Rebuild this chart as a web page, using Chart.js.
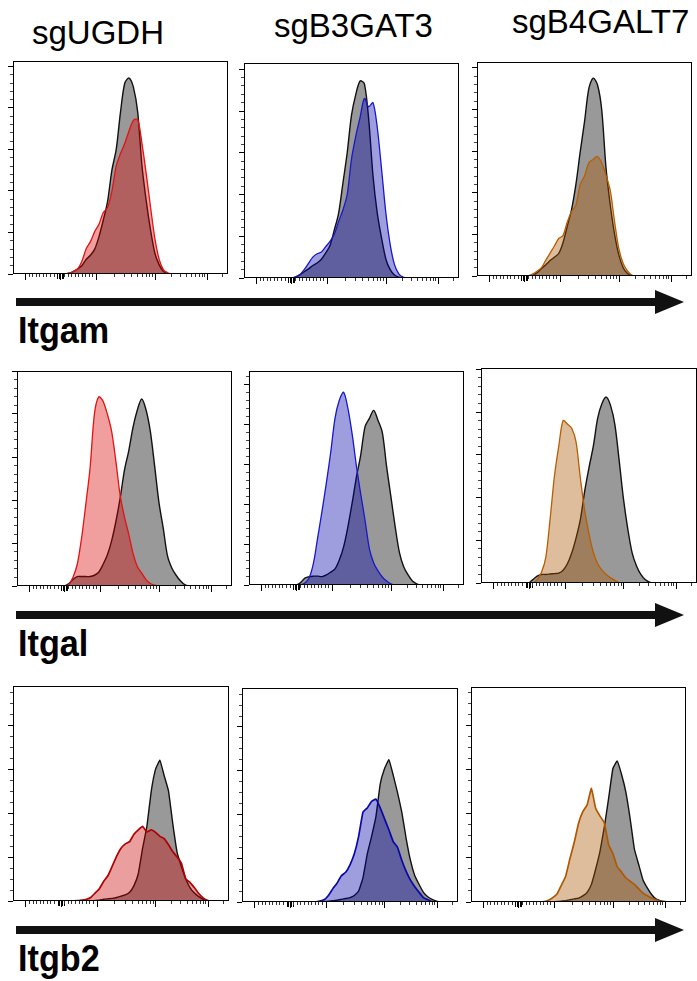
<!DOCTYPE html>
<html><head><meta charset="utf-8">
<script src="https://cdn.jsdelivr.net/npm/chart.js@4.4.1/dist/chart.umd.min.js"></script>
<style>
html,body{margin:0;padding:0;background:#fff;width:697px;height:981px;overflow:hidden;position:relative}
canvas{position:absolute}
.t{position:absolute;font-family:"Liberation Sans",Arial,sans-serif;white-space:nowrap;color:#000;line-height:1;transform-origin:0 0}
.title{font-size:33px}
.lab{font-size:36px;font-weight:bold;transform:scaleX(0.95)}
</style></head><body>
<div class="t title" style="left:32px;top:16px">sgUGDH</div>
<div class="t title" style="left:274px;top:9px">sgB3GAT3</div>
<div class="t title" style="left:512px;top:5px">sgB4GALT7</div>
<div class="t lab" style="left:18px;top:313px">Itgam</div>
<div class="t lab" style="left:18px;top:626px">Itgal</div>
<div class="t lab" style="left:18px;top:941px">Itgb2</div>
<svg style="position:absolute;left:0;top:0" width="697" height="981">
<g fill="#111">
<rect x="16" y="298" width="642" height="8"/><polygon points="655,290 684,302 655,314"/>
<rect x="16" y="611" width="642" height="8"/><polygon points="655,603 684,615 655,627"/>
<rect x="16" y="926" width="642" height="8"/><polygon points="655,918 684,930 655,942"/>
</g></svg>
<script>
// fluorescence channel (display units across the plot width)
const channel=[0,2,4,6,8,10,12,14,16,18,20,22,24,26,28,30,32,34,36,38,40,42,44,46,48,50,52,54,56,58,60,62,64,66,68,70,72,74,76,78,80,82,84,86,88,90,92,94,96,98,100];
// biexponential axis tick positions (no labels)
const xMajorTicks=[6.0,22.3,38.9,66.2,90.3];
const xZeroTicks=[20.9,21.6,23.0,23.7];
const xMinorTicks=[7.6,9.3,10.9,12.5,14.2,15.8,17.4,19.1,24.0,25.6,27.3,28.9,30.6,32.2,33.9,35.5,37.2,47.1,51.9,55.3,58.0,60.1,62.0,63.6,65.0,73.5,77.7,80.7,83.0,84.9,86.6,88.0,89.2,97.5];

// Row Itgam
const ctrl_UGDH_Itgam=[0,0,0,0,0,0,0,0,0,0,0,0, 0,0.02,0.06,0.12,0.2,0.35,0.45,0.6,0.9,1.3,1.75,2.5,3.0,3.9,4.6,4.72,4.5,3.9,2.6,1.75,1.05,0.5,0.22,0.06,0.01, 0,0,0,0,0,0,0,0,0,0,0,0,0,0];
const sg_UGDH_Itgam=[0,0,0,0,0,0,0,0,0,0,0,0, 0,0.02,0.06,0.12,0.3,0.6,0.78,1.02,1.2,1.48,1.6,2.0,2.6,2.9,3.15,3.45,3.7,3.72,3.14,2.4,1.6,0.85,0.35,0.1,0.03, 0,0,0,0,0,0,0,0,0,0,0,0,0,0];
const ctrl_B3GAT3_Itgam=[0,0,0,0,0,0,0,0,0,0,0,0, 0.02,0.08,0.15,0.22,0.3,0.36,0.45,0.6,0.78,1.15,1.55,2.27,3.0,3.9,4.4,4.72,4.65,3.8,2.45,1.55,0.95,0.45,0.2,0.07,0.02, 0,0,0,0,0,0,0,0,0,0,0,0,0,0];
const sg_B3GAT3_Itgam=[0,0,0,0,0,0,0,0,0,0,0,0, 0.03,0.08,0.2,0.35,0.5,0.58,0.62,0.75,0.88,1.05,1.35,1.63,2.0,2.85,3.4,3.85,4.3,4.1,4.2,3.6,2.6,1.55,0.8,0.32,0.1,0.02, 0,0,0,0,0,0,0,0,0,0,0,0,0];
const ctrl_B4GALT7_Itgam=[0,0,0,0,0,0,0,0,0,0,0,0, 0,0.02,0.08,0.18,0.27,0.37,0.45,0.54,0.8,1.2,1.6,2.2,2.98,3.7,4.5,4.75,4.6,4.0,2.6,1.7,1.0,0.5,0.2,0.06,0.01, 0,0,0,0,0,0,0,0,0,0,0,0,0,0];
const sg_B4GALT7_Itgam=[0,0,0,0,0,0,0,0,0,0,0,0, 0.01,0.05,0.12,0.2,0.38,0.55,0.72,0.9,0.97,1.3,1.55,1.7,2.2,2.4,2.72,2.8,2.87,2.72,2.42,2.05,1.3,0.65,0.3,0.12,0.02, 0,0,0,0,0,0,0,0,0,0,0,0,0,0];
// Row Itgal
const ctrl_UGDH_Itgal=[0,0,0,0,0,0,0,0,0,0,0,0, 0.05,0.15,0.22,0.22,0.22,0.22,0.25,0.32,0.5,0.72,1.05,1.5,2.05,2.7,3.15,3.7,4.1,4.35,4.1,3.6,2.8,1.95,1.35,0.7,0.42,0.25,0.12,0.03, 0,0,0,0,0,0,0,0,0,0,0];
const sg_UGDH_Itgal=[0,0,0,0,0,0,0,0,0,0,0,0, 0.03,0.2,0.5,1.1,1.9,2.75,4.0,4.4,4.3,4.0,3.6,2.9,2.1,1.6,1.2,0.75,0.45,0.3,0.15,0.06,0.02, 0,0,0,0,0,0,0,0,0,0,0,0,0,0,0,0,0,0];
const ctrl_B3GAT3_Itgal=[0,0,0,0,0,0,0,0,0,0,0,0, 0.06,0.17,0.21,0.22,0.22,0.21,0.25,0.32,0.4,0.62,0.95,1.45,2.05,2.7,3.25,3.95,4.15,4.35,4.1,3.8,2.95,2.2,1.45,0.8,0.45,0.25,0.1,0.03, 0,0,0,0,0,0,0,0,0,0,0];
const sg_B3GAT3_Itgal=[0,0,0,0,0,0,0,0,0,0,0,0,0, 0.05,0.18,0.55,1.2,1.85,2.55,3.3,4.15,4.6,4.8,4.4,3.75,2.95,2.25,1.6,0.9,0.55,0.35,0.2,0.1,0.03, 0,0,0,0,0,0,0,0,0,0,0,0,0,0,0,0,0];
const ctrl_B4GALT7_Itgal=[0,0,0,0,0,0,0,0,0,0,0,0, 0.08,0.16,0.2,0.2,0.21,0.22,0.23,0.3,0.45,0.7,1.05,1.48,2.15,2.7,3.2,3.85,4.2,4.35,4.15,3.7,2.85,1.95,1.25,0.7,0.4,0.2,0.08,0.02, 0,0,0,0,0,0,0,0,0,0,0];
const sg_B4GALT7_Itgal=[0,0,0,0,0,0,0,0,0,0,0,0,0, 0.08,0.25,0.6,1.5,2.5,3.2,3.8,3.72,3.62,3.3,2.45,1.7,1.15,0.72,0.45,0.3,0.2,0.12,0.06,0.01, 0,0,0,0,0,0,0,0,0,0,0,0,0,0,0,0,0,0];
// Row Itgb2
const ctrl_UGDH_Itgb2=[0,0,0,0,0,0,0,0,0,0,0,0,0,0,0,0,0,0,0, 0.01,0.02,0.04,0.05,0.06,0.08,0.11,0.14,0.2,0.35,0.62,1.2,1.7,2.5,3.0,3.2,2.85,2.5,1.75,1.1,0.78,0.5,0.3,0.18,0.1,0.04,0.01, 0,0,0,0,0];
const sg_UGDH_Itgb2=[0,0,0,0,0,0,0,0,0,0,0,0,0,0,0, 0.01,0.02,0.04,0.08,0.18,0.28,0.45,0.58,0.8,1.02,1.2,1.3,1.35,1.52,1.62,1.7,1.57,1.62,1.56,1.47,1.42,1.28,1.12,1.0,0.85,0.5,0.42,0.3,0.17,0.07,0.01, 0,0,0,0,0];
const ctrl_B3GAT3_Itgb2=[0,0,0,0,0,0,0,0,0,0,0,0,0,0,0,0,0,0,0, 0.01,0.02,0.03,0.04,0.06,0.08,0.1,0.15,0.25,0.55,1.1,1.5,1.95,2.7,3.05,3.25,2.9,2.5,2.05,1.45,0.95,0.6,0.4,0.22,0.12,0.06,0.02, 0,0,0,0,0];
const sg_B3GAT3_Itgb2=[0,0,0,0,0,0,0,0,0,0,0,0,0,0,0,0,0,0, 0.02,0.05,0.15,0.3,0.43,0.6,0.68,0.85,1.1,1.5,2.05,2.15,2.3,2.35,2.15,1.9,1.65,1.38,1.25,0.95,0.7,0.5,0.35,0.22,0.1,0.05,0.01, 0,0,0,0,0,0];
const ctrl_B4GALT7_Itgb2=[0,0,0,0,0,0,0,0,0,0,0,0,0,0,0,0,0,0,0,0, 0.01,0.02,0.03,0.05,0.07,0.09,0.14,0.22,0.4,0.75,1.15,1.7,2.35,3.03,3.2,2.9,2.5,1.9,1.2,0.85,0.5,0.32,0.17,0.07,0.03,0.01, 0,0,0,0,0];
const sg_B4GALT7_Itgb2=[0,0,0,0,0,0,0,0,0,0,0,0,0,0,0,0,0, 0.01,0.04,0.1,0.18,0.38,0.58,0.98,1.35,1.78,2.05,2.2,2.58,2.12,1.95,1.8,1.3,1.1,0.8,0.68,0.55,0.47,0.4,0.3,0.2,0.14,0.09,0.05,0.01, 0,0,0,0,0,0];

const RED={line:'#e01414',fill:'rgba(215,0,0,0.38)'}, RED3={line:'#b00000',fill:'rgba(200,0,0,0.38)'};
const BLUE={line:'#1818c8',fill:'rgba(0,0,170,0.38)'}, BLUE3={line:'#0808a8',fill:'rgba(0,0,170,0.38)'};
const ORNG={line:'#b85e00',fill:'rgba(170,85,0,0.39)'}, ORNG3={line:'#b05800',fill:'rgba(170,85,0,0.39)'};

const panels=[
 {l:13,t:61,r:228,b:274,ymax:5.13,minor:0.2,ctrl:ctrl_UGDH_Itgam,sg:sg_UGDH_Itgam,c:RED,ten:0.3,bw:1.3},
 {l:244,t:63,r:459,b:278,ymax:5.15,minor:0.2,ctrl:ctrl_B3GAT3_Itgam,sg:sg_B3GAT3_Itgam,c:BLUE,ten:0.3,bw:1.3},
 {l:477,t:62,r:692,b:276,ymax:5.14,minor:0.2,ctrl:ctrl_B4GALT7_Itgam,sg:sg_B4GALT7_Itgam,c:ORNG,ten:0.3,bw:1.3},
 {l:17,t:371,r:232,b:586,ymax:5.0,minor:0.2,ctrl:ctrl_UGDH_Itgal,sg:sg_UGDH_Itgal,c:RED,ten:0.3,bw:1.3},
 {l:249,t:371,r:464,b:585,ymax:5.33,minor:0.2,ctrl:ctrl_B3GAT3_Itgal,sg:sg_B3GAT3_Itgal,c:BLUE,ten:0.3,bw:1.3},
 {l:481,t:368,r:697,b:583,ymax:5.03,minor:0.2,ctrl:ctrl_B4GALT7_Itgal,sg:sg_B4GALT7_Itgal,c:ORNG,ten:0.3,bw:1.3},
 {l:13,t:686,r:229,b:901,ymax:4.89,minor:0.25,ctrl:ctrl_UGDH_Itgb2,sg:sg_UGDH_Itgb2,c:RED3,ten:0.1,bw:1.7},
 {l:242,t:688,r:458,b:902,ymax:4.89,minor:0.25,ctrl:ctrl_B3GAT3_Itgb2,sg:sg_B3GAT3_Itgb2,c:BLUE3,ten:0.1,bw:1.7},
 {l:471,t:687,r:686,b:902,ymax:4.88,minor:0.25,ctrl:ctrl_B4GALT7_Itgb2,sg:sg_B4GALT7_Itgb2,c:ORNG3,ten:0.1,bw:1.7}
];

const boxPlugin={id:'box',afterDraw(ch){const a=ch.chartArea,ctx=ch.ctx;ctx.save();ctx.strokeStyle='#000';ctx.lineWidth=1;
 ctx.strokeRect(Math.round(a.left)+0.5,Math.round(a.top)+0.5,Math.round(a.right-a.left)-1,Math.round(a.bottom-a.top)-1);ctx.restore();}};

function tickAxis(axis,pos,min,max,vals,len,color){
 return {type:'linear',axis:axis,position:pos,min:min,max:max,
  afterBuildTicks:s=>{s.ticks=vals.map(v=>({value:v}));},
  ticks:{display:false},
  grid:{display:true,drawOnChartArea:false,drawTicks:true,tickLength:len,tickColor:color,tickWidth:1},
  border:{display:false}};
}

panels.forEach(p=>{
 const PL=9,PT=2,PR=2,PB=9;
 const w=p.r-p.l,h=p.b-p.t;
 const c=document.createElement('canvas');
 c.width=w+PL+PR;c.height=h+PT+PB;
 c.style.left=(p.l-PL)+'px';c.style.top=(p.t-PT)+'px';
 document.body.appendChild(c);
 const yMaj=[],yMin=[];
 for(let k=0;k*p.minor<=p.ymax+1e-9;k++){const r=Math.round(k*p.minor*100)/100;(Math.abs(r-Math.round(r))<1e-6?yMaj:yMin).push(r);}
 new Chart(c,{type:'line',
  data:{datasets:[
   {data:channel.map((x,i)=>({x:x,y:p.sg[i]})),borderColor:p.c.line,backgroundColor:p.c.fill,fill:'origin',borderWidth:p.bw,tension:p.ten},
   {data:channel.map((x,i)=>({x:x,y:p.ctrl[i]})),borderColor:'#111',backgroundColor:'#999999',fill:'origin',borderWidth:1.4,tension:p.ten}
  ]},
  options:{responsive:false,animation:false,devicePixelRatio:1,events:[],
   layout:{padding:{left:PL,top:PT,right:PR,bottom:PB}},
   plugins:{legend:{display:false},tooltip:{enabled:false}},
   elements:{point:{radius:0}},
   scales:{
    x:{type:'linear',min:0,max:100,display:false},
    y:{type:'linear',min:0,max:p.ymax,display:false},
    xMaj:tickAxis('x',{y:0},0,100,xMajorTicks,6,'#000'),
    xZero:tickAxis('x',{y:0},0,100,xZeroTicks,5,'#000'),
    xMin:tickAxis('x',{y:0},0,100,xMinorTicks,3,'#333'),
    yMaj:tickAxis('y',{x:0},0,p.ymax,yMaj,5,'#000'),
    yMin:tickAxis('y',{x:0},0,p.ymax,yMin,3,'#444')
   }},
  plugins:[boxPlugin]});
});
</script>
</body></html>
